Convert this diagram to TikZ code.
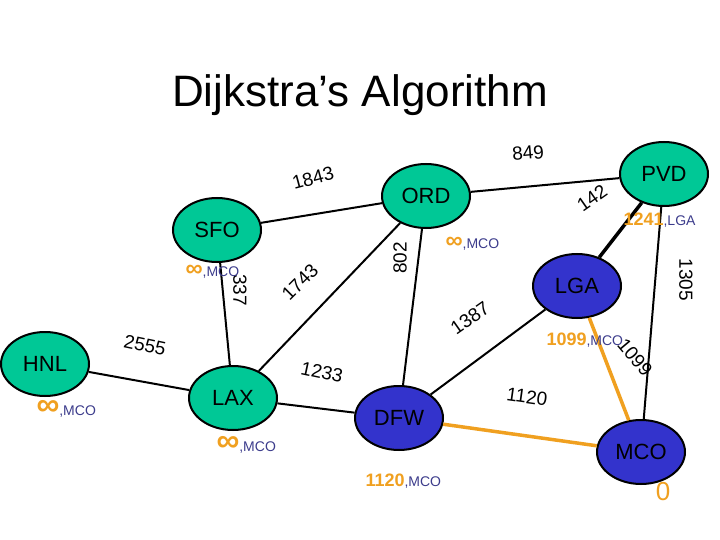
\documentclass[tikz,border=0pt]{standalone}
\usepackage{fontspec}
\setmainfont{Liberation Sans}
\usetikzlibrary{shapes.geometric}
\definecolor{gr}{RGB}{0,200,150}
\definecolor{bl}{RGB}{51,51,204}
\definecolor{orn}{RGB}{240,160,32}
\definecolor{tb}{RGB}{60,60,140}
\tikzset{
 city/.style={ellipse,draw=black,line width=2pt,minimum width=88pt,minimum height=64pt,inner sep=0pt,font=\fontsize{22}{24}\selectfont},
 gnode/.style={city,fill=gr},
 bnode/.style={city,fill=bl},
 edge/.style={line width=2pt,black},
 oedge/.style={line width=3.5pt,orn},
 wl/.style={font=\fontsize{19}{21}\selectfont},
 cost/.style={font=\fontsize{18}{20}\selectfont\bfseries,text=orn},
}
\newcommand{\lab}[2]{{\color{orn}\bfseries #1}{\color{tb}\fontsize{14}{16}\selectfont\mdseries ,#2}}
\begin{document}
\begin{tikzpicture}[x=1pt,y=-1pt]
\useasboundingbox (0,0) rectangle (720,540);
\fill[white] (0,0) rectangle (720,540);
\node (title) at (360,95) {\fontsize{44}{48}\selectfont Dijkstra’s Algorithm};
\node[gnode] (PVD) at (664,174) {PVD};
\node[gnode] (ORD) at (426,196) {ORD};
\node[gnode] (SFO) at (217,230) {SFO};
\node[gnode] (HNL) at (45,364) {HNL};
\node[gnode] (LAX) at (233,398) {LAX};
\node[bnode] (DFW) at (399,418) {DFW};
\node[bnode] (LGA) at (577,286) {LGA};
\node[bnode] (MCO) at (641,452) {MCO};
\draw[edge] (HNL) -- (LAX);
\draw[edge] (SFO) -- (ORD);
\draw[edge] (SFO) -- (LAX);
\draw[edge] (LAX) -- (ORD);
\draw[edge] (LAX) -- (DFW);
\draw[edge] (ORD) -- (DFW);
\draw[edge] (ORD) -- (PVD);
\draw[edge,line width=3.5pt] (PVD) -- (LGA);
\draw[edge] (PVD) -- (MCO);
\draw[edge] (DFW) -- (LGA);
\draw[oedge] (DFW) -- (MCO);
\draw[oedge] (LGA) -- (MCO);
\node[wl,rotate=15] (w1) at (313,178) {1843};
\node[wl,rotate=5] (w2) at (528,153) {849};
\node[wl,rotate=35] (w3) at (592,198) {142};
\node[wl,rotate=90] (w4) at (400,258) {802};
\node[wl,rotate=45] (w5) at (300,282) {1743};
\node[wl,rotate=-90] (w6) at (240,290) {337};
\node[wl,rotate=-90] (w7) at (686,280) {1305};
\node[wl,rotate=-12] (w8) at (145,345) {2555};
\node[wl,rotate=35] (w9) at (470,318) {1387};
\node[wl,rotate=-50] (w10) at (635,357) {1099};
\node[wl,rotate=-12] (w11) at (322,372) {1233};
\node[wl,rotate=-8] (w12) at (527,397) {1120};
\node[cost,anchor=west] (c1) at (620,220) {\lab{1241}{LGA}};
\node[cost,anchor=west,font=\fontsize{24}{26}\selectfont] (c2) at (442,244) {\lab{∞}{MCO}};
\node[cost,anchor=west,font=\fontsize{24}{26}\selectfont] (c3) at (182,272) {\lab{∞}{MCO}};
\node[cost,anchor=west] (c4) at (543,340) {\lab{1099}{MCO}};
\node[cost,anchor=west,font=\fontsize{32}{34}\selectfont\bfseries] (c5) at (33,409) {\lab{∞}{MCO}};
\node[cost,anchor=west,font=\fontsize{32}{34}\selectfont\bfseries] (c6) at (213,445) {\lab{∞}{MCO}};
\node[cost,anchor=west] (c7) at (362,481) {\lab{1120}{MCO}};
\node[font=\fontsize{26}{28}\selectfont,text=orn] (c8) at (663,492) {0};
\end{tikzpicture}
\end{document}
